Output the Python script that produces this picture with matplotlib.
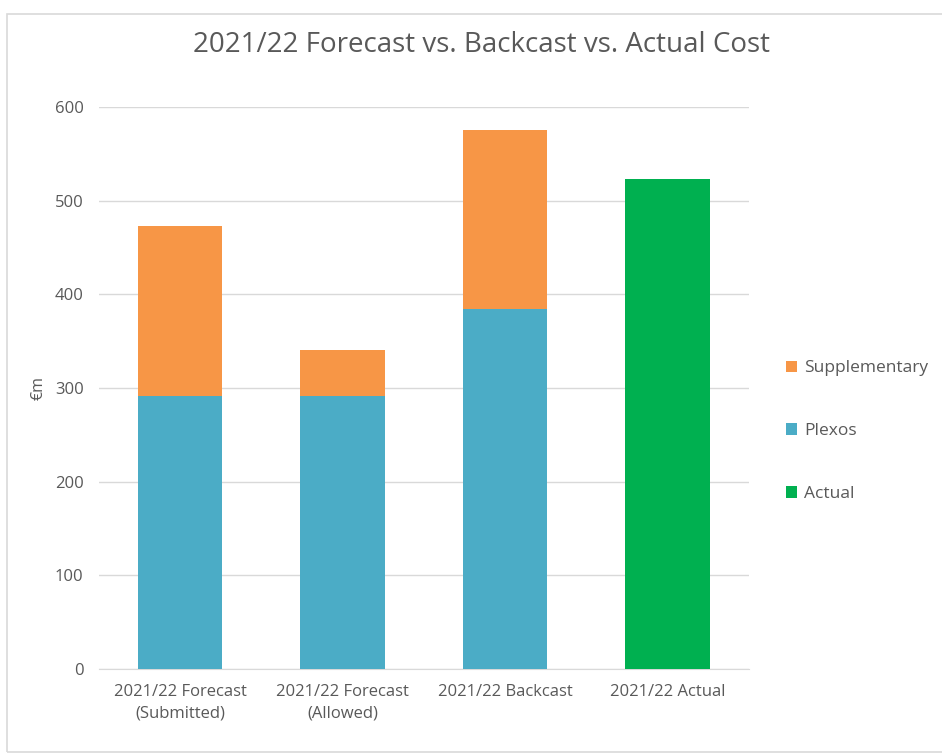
import numpy as np
import matplotlib.pyplot as plt
from matplotlib.patches import Rectangle

# data
categories = ["2021/22 Forecast\n(Submitted)", "2021/22 Forecast\n(Allowed)",
              "2021/22 Backcast", "2021/22 Actual"]
plexos = [291, 291, 384, 0]
supplementary = [182, 50, 191, 0]
actual = [0, 0, 0, 523]

orange = "#F79646"
blue = "#4BACC6"
green = "#00B050"
txt = "#595959"

plt.rcParams['font.family'] = ['Open Sans', 'DejaVu Sans']

fig = plt.figure(figsize=(9.42, 7.54), dpi=100)
ax = fig.add_axes([0.105, 0.1127, 0.69, 0.7453])

# chart frame
fig.patches.append(Rectangle((0.007, 0.003), 1.2, 0.978, transform=fig.transFigure,
                             fill=False, edgecolor="#D9D9D9", linewidth=1.2))

x = np.arange(len(categories))
w = 0.52
ax.bar(x, plexos, w, color=blue, label="Plexos", zorder=3)
ax.bar(x, supplementary, w, bottom=plexos, color=orange, label="Supplementary", zorder=3)
ax.bar(x, actual, w, color=green, label="Actual", zorder=3)

ax.set_xlim(-0.5, 3.5)
ax.set_ylim(0, 600)
ax.set_yticks(np.arange(0, 601, 100))
ax.set_xticks(x)
ax.set_xticklabels(categories, fontsize=12, color=txt, linespacing=1.45)
ax.tick_params(axis='y', labelsize=12, labelcolor=txt, length=0, pad=11)
ax.tick_params(axis='x', length=0, pad=11)
ax.grid(axis='y', color="#D9D9D9", linewidth=1, zorder=0)
for s in ["top", "right", "left"]:
    ax.spines[s].set_visible(False)
ax.spines["bottom"].set_color("#D9D9D9")

ax.set_ylabel("€m", fontsize=11.5, color=txt, labelpad=6)
fig.text(0.511, 0.94, "2021/22 Forecast vs. Backcast vs. Actual Cost",
         ha="center", va="center", fontsize=20, color=txt)

handles, labels = ax.get_legend_handles_labels()
order = [1, 0, 2]
leg = fig.legend([handles[i] for i in order], [labels[i] for i in order],
                 loc="center left", bbox_to_anchor=(0.818, 0.428), frameon=False,
                 fontsize=12.5, labelspacing=2.7, handlelength=0.65, handleheight=0.65,
                 handletextpad=0.4)
for t in leg.get_texts():
    t.set_color(txt)

fig.savefig("out.png", dpi=100)
